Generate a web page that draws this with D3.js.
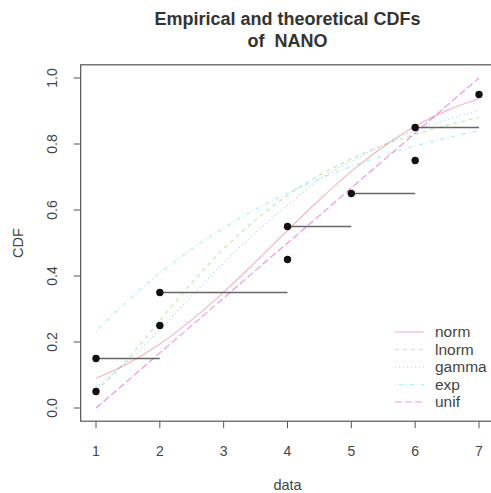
<!DOCTYPE html>
<html lang="en">
  <head>
    <meta charset="UTF-8" />
    <title>Empirical and theoretical CDFs of NANO</title>
    <script src="https://d3js.org/d3.v7.min.js"></script>
    <style>
      body {
        margin: 0;
        padding: 0;
        background: white;
      }
      svg {
        display: block;
        font-family: "Liberation Sans", Arial, sans-serif;
      }
      .tick-label {
        font-size: 14px;
        fill: #444;
      }
      .axis-title {
        font-size: 14.5px;
        fill: #444;
      }
    </style>
  </head>
  <body>
    <svg width="491" height="493"></svg>
    <script>
      const width = 491,
        height = 493;
      const svg = d3.select("svg");

      // empirical points (sorted data, plotting positions)
      const obsX = [1, 1, 2, 2, 4, 4, 5, 6, 6, 7];
      const obsP = [0.05, 0.15, 0.25, 0.35, 0.45, 0.55, 0.65, 0.75, 0.85, 0.95];

      // theoretical curves at these x values
      const curveX = [1, 1.5, 2, 2.5, 3, 3.5, 4, 4.5, 5, 5.5, 6, 6.5, 7];
      const normP = [0.09, 0.135, 0.194, 0.267, 0.351, 0.443, 0.538, 0.631, 0.717, 0.792, 0.854, 0.902, 0.937];
      const lnormP = [0.052, 0.149, 0.265, 0.379, 0.482, 0.57, 0.644, 0.705, 0.755, 0.796, 0.829, 0.857, 0.88];
      const gammaP = [0.063, 0.142, 0.238, 0.339, 0.439, 0.532, 0.614, 0.693, 0.747, 0.798, 0.84, 0.874, 0.902];
      const expP = [0.231, 0.326, 0.409, 0.482, 0.546, 0.602, 0.651, 0.694, 0.732, 0.765, 0.794, 0.819, 0.841];
      const unifP = [0, 0.083, 0.167, 0.25, 0.333, 0.417, 0.5, 0.583, 0.667, 0.75, 0.833, 0.917, 1];

      const fitNames = ["norm", "lnorm", "gamma", "exp", "unif"];
      const fitValues = [normP, lnormP, gammaP, expP, unifP];
      const fitColors = ["#DF536B", "#61D04F", "#2297E6", "#28E2E5", "#CD0BBC"];
      const fitDash = [null, "4,4", "1,3", "1,3,4,3", "7,3"];

      const xTicks = [1, 2, 3, 4, 5, 6, 7];
      const yTicks = [0, 0.2, 0.4, 0.6, 0.8, 1.0];

      const x = d3.scaleLinear().domain([1, 7]).range([96, 479]);
      const y = d3.scaleLinear().domain([0, 1]).range([408, 78]);
      const x0 = x(0.76),
        x1 = x(7.24),
        y0 = y(-0.04),
        y1 = y(1.04);

      // title
      const title = svg
        .append("text")
        .attr("text-anchor", "middle")
        .attr("font-weight", "bold")
        .attr("font-size", "18px")
        .attr("fill", "#333");
      title.append("tspan").attr("x", (x0 + x1) / 2).attr("y", 24.5).text("Empirical and theoretical CDFs");
      title.append("tspan").attr("x", (x0 + x1) / 2).attr("y", 46.5).attr("xml:space", "preserve").text("of  NANO");

      // curves
      const line = d3
        .line()
        .x((d) => x(d[0]))
        .y((d) => y(d[1]))
        .curve(d3.curveMonotoneX);

      fitValues.forEach((vals, i) => {
        svg
          .append("path")
          .attr("d", line(curveX.map((cx, j) => [cx, vals[j]])))
          .attr("fill", "none")
          .attr("stroke", fitColors[i])
          .attr("stroke-opacity", 0.42)
          .attr("stroke-width", 1.2)
          .attr("stroke-dasharray", fitDash[i]);
      });

      // horizontal steps from the last point of each value to the next value
      const steps = [];
      obsX.forEach((v, i) => {
        const next = obsX.find((w) => w > v);
        const isLast = i === obsX.length - 1 || obsX[i + 1] !== v;
        if (isLast && next !== undefined) steps.push([v, next, obsP[i]]);
      });
      svg
        .selectAll(".step")
        .data(steps)
        .join("line")
        .attr("x1", (d) => x(d[0]))
        .attr("x2", (d) => x(d[1]))
        .attr("y1", (d) => y(d[2]))
        .attr("y2", (d) => y(d[2]))
        .attr("stroke", "#666")
        .attr("stroke-width", 1.5);

      svg
        .selectAll(".pt")
        .data(obsX)
        .join("circle")
        .attr("cx", (d) => x(d))
        .attr("cy", (d, i) => y(obsP[i]))
        .attr("r", 3.7)
        .attr("fill", "#111");

      // box
      svg
        .append("rect")
        .attr("x", x0)
        .attr("y", y1)
        .attr("width", x1 - x0)
        .attr("height", y0 - y1)
        .attr("fill", "none")
        .attr("stroke", "#555")
        .attr("stroke-width", 1.2);

      // x axis
      svg
        .selectAll(".xt")
        .data(xTicks)
        .join("line")
        .attr("x1", (d) => x(d))
        .attr("x2", (d) => x(d))
        .attr("y1", y0)
        .attr("y2", y0 + 7)
        .attr("stroke", "#555");
      svg
        .selectAll(".xl")
        .data(xTicks)
        .join("text")
        .attr("class", "tick-label")
        .attr("x", (d) => x(d))
        .attr("y", 456)
        .attr("text-anchor", "middle")
        .text((d) => d);

      // y axis
      svg
        .selectAll(".yt")
        .data(yTicks)
        .join("line")
        .attr("x1", x0)
        .attr("x2", x0 - 7)
        .attr("y1", (d) => y(d))
        .attr("y2", (d) => y(d))
        .attr("stroke", "#555");
      svg
        .selectAll(".yl")
        .data(yTicks)
        .join("text")
        .attr("class", "tick-label")
        .attr("transform", (d) => `translate(57,${y(d)}) rotate(-90)`)
        .attr("text-anchor", "middle")
        .text((d) => d.toFixed(1));

      svg
        .append("text")
        .attr("class", "axis-title")
        .attr("x", (x0 + x1) / 2)
        .attr("y", 490)
        .attr("text-anchor", "middle")
        .text("data");
      svg
        .append("text")
        .attr("class", "axis-title")
        .attr("transform", `translate(23,${(y0 + y1) / 2}) rotate(-90)`)
        .attr("text-anchor", "middle")
        .text("CDF");

      // legend
      const legend = svg.append("g");
      fitNames.forEach((name, i) => {
        const ly = 332 + i * 17.5;
        legend
          .append("line")
          .attr("x1", 395)
          .attr("x2", 424)
          .attr("y1", ly)
          .attr("y2", ly)
          .attr("stroke", fitColors[i])
          .attr("stroke-opacity", 0.42)
          .attr("stroke-width", 1.2)
          .attr("stroke-dasharray", fitDash[i]);
        legend
          .append("text")
          .attr("x", 435)
          .attr("y", ly + 5)
          .attr("font-size", "15.5px")
          .attr("fill", "#444")
          .text(name);
      });
    </script>
  </body>
</html>
